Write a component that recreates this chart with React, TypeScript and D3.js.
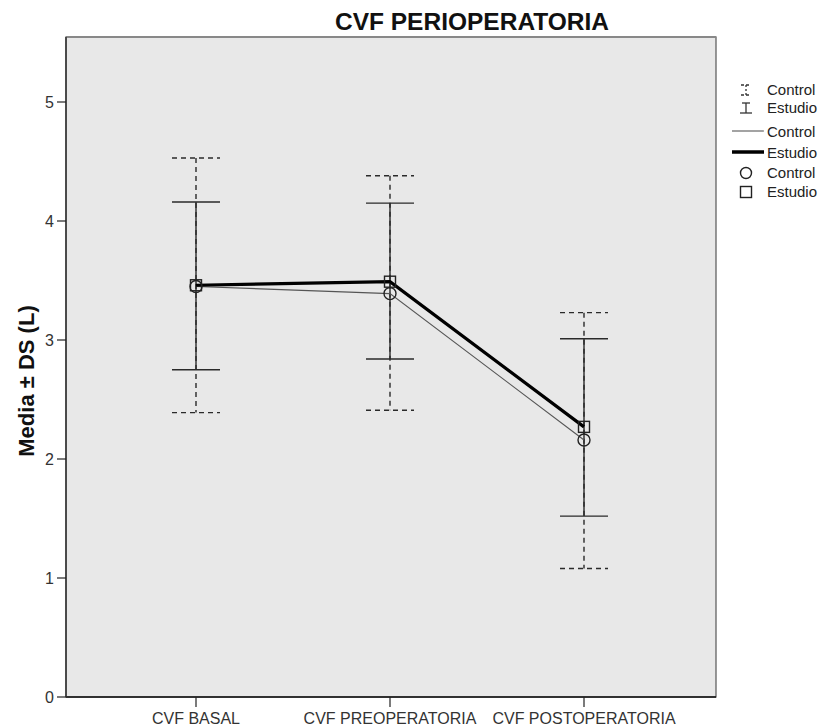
import React from "react";
import * as d3 from "d3";

const categories = ["CVF BASAL", "CVF PREOPERATORIA", "CVF POSTOPERATORIA"];
const controlMean = [3.45, 3.39, 2.16];
const controlUpper = [4.53, 4.38, 3.23];
const controlLower = [2.39, 2.41, 1.08];
const estudioMean = [3.46, 3.49, 2.27];
const estudioUpper = [4.16, 4.15, 3.01];
const estudioLower = [2.75, 2.84, 1.52];
const yTicks = [0, 1, 2, 3, 4, 5];

const W = 825, H = 726;
const L = 66, R = 716, T = 37, B = 697;
const font = "Arial, 'Liberation Sans', sans-serif";

export default function App() {
  const x = d3.scalePoint<string>().domain(categories).range([196, 584]).padding(0);
  const y = d3.scaleLinear().domain([0, 5]).range([B, 102]);
  const line = d3.line<number>().x((_, i) => x(categories[i])!).y((d) => y(d));
  const cap = 24;

  const errBars = (up: number[], lo: number[], dashed: boolean, key: string) =>
    categories.map((c, i) => {
      const cx = x(c)!;
      const dash = dashed ? "5,4" : undefined;
      return (
        <g key={key + i} stroke="#2a2a2a" strokeWidth={1.4} strokeDasharray={dash}>
          <line x1={cx} x2={cx} y1={y(up[i])} y2={y(lo[i])} />
          <line x1={cx - cap} x2={cx + cap} y1={y(up[i])} y2={y(up[i])} />
          <line x1={cx - cap} x2={cx + cap} y1={y(lo[i])} y2={y(lo[i])} />
        </g>
      );
    });

  const lx = 746;
  const tx = 767;
  const rows = [90, 108, 131, 152, 173, 192];

  return (
    <svg width={W} height={H} style={{ position: "absolute", left: 0, top: 0, background: "#fff" }} fontFamily={font}>
      <rect x={L} y={T} width={R - L} height={B - T} fill="#e8e8e8" stroke="#555" strokeWidth={1.2} />
      <line x1={L} x2={R} y1={T} y2={T} stroke="#888" strokeWidth={2} />
      <line x1={L} x2={R} y1={B} y2={B} stroke="#111" strokeWidth={1.5} />
      <line x1={L} x2={L} y1={T} y2={B} stroke="#333" strokeWidth={1.5} />
      <text x={472} y={30} textAnchor="middle" fontSize={24.5} fontWeight="bold" fill="#111">CVF PERIOPERATORIA</text>
      {yTicks.map((t) => (
        <g key={"yt" + t}>
          <line x1={L - 9} x2={L} y1={y(t)} y2={y(t)} stroke="#222" strokeWidth={1.2} />
          <text x={L - 12} y={y(t) + 6} fontSize={16} textAnchor="end" fill="#333">{t}</text>
        </g>
      ))}
      {categories.map((c) => (
        <g key={"xt" + c}>
          <line x1={x(c)!} x2={x(c)!} y1={B} y2={B + 10} stroke="#222" strokeWidth={1.2} />
          <text x={x(c)!} y={724} fontSize={16} textAnchor="middle" fill="#333">{c}</text>
        </g>
      ))}
      <text transform={`translate(34,${381}) rotate(-90)`} textAnchor="middle" fontSize={22} fontWeight="bold" fill="#111">Media ± DS (L)</text>

      {errBars(controlUpper, controlLower, true, "c")}
      {errBars(estudioUpper, estudioLower, false, "e")}

      <path d={line(controlMean)!} fill="none" stroke="#555" strokeWidth={1.1} />
      <path d={line(estudioMean)!} fill="none" stroke="#000" strokeWidth={3.2} />
      {controlMean.map((v, i) => (
        <circle key={"cm" + i} cx={x(categories[i])!} cy={y(v)} r={6} fill="none" stroke="#222" strokeWidth={1.4} />
      ))}
      {estudioMean.map((v, i) => (
        <rect key={"em" + i} x={x(categories[i])! - 5.5} y={y(v) - 5.5} width={11} height={11} fill="none" stroke="#222" strokeWidth={1.4} />
      ))}

      <g fontSize={15} fill="#222">
        <g stroke="#333" strokeWidth={1.3}>
          <line x1={lx - 5} x2={lx + 5} y1={rows[0] - 5} y2={rows[0] - 5} strokeDasharray="3,2" />
          <line x1={lx} x2={lx} y1={rows[0] - 5} y2={rows[0] + 5} strokeDasharray="2,2" />
          <line x1={lx - 5} x2={lx + 5} y1={rows[0] + 5} y2={rows[0] + 5} strokeDasharray="3,2" />
          <line x1={lx - 4} x2={lx + 4} y1={rows[1] - 5} y2={rows[1] - 5} />
          <line x1={lx} x2={lx} y1={rows[1] - 5} y2={rows[1] + 5} />
          <line x1={lx - 6} x2={lx + 6} y1={rows[1] + 5} y2={rows[1] + 5} />
        </g>
        <text x={tx} y={rows[0] + 5}>Control</text>
        <text x={tx} y={rows[1] + 5}>Estudio</text>
        <line x1={732} x2={764} y1={rows[2]} y2={rows[2]} stroke="#666" strokeWidth={1.2} />
        <text x={tx} y={rows[2] + 6}>Control</text>
        <line x1={732} x2={764} y1={rows[3]} y2={rows[3]} stroke="#000" strokeWidth={3.5} />
        <text x={tx} y={rows[3] + 6}>Estudio</text>
        <circle cx={lx} cy={rows[4]} r={5.5} fill="none" stroke="#222" strokeWidth={1.4} />
        <text x={tx} y={rows[4] + 5}>Control</text>
        <rect x={lx - 5.5} y={rows[5] - 5.5} width={11} height={11} fill="none" stroke="#222" strokeWidth={1.4} />
        <text x={tx} y={rows[5] + 5}>Estudio</text>
      </g>
    </svg>
  );
}
